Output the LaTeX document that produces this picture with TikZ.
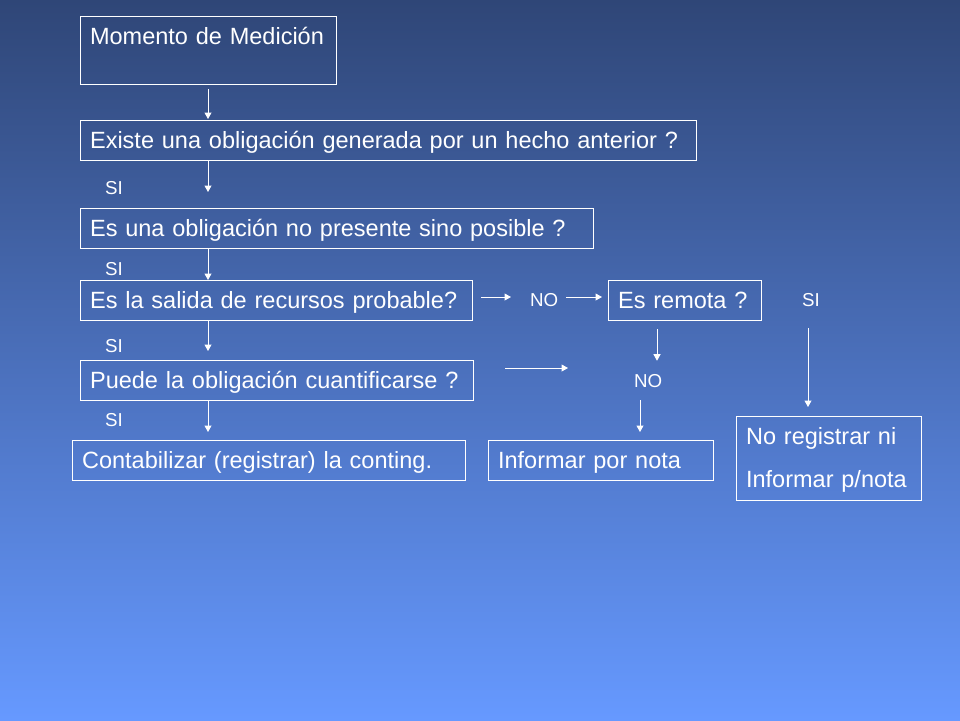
\documentclass[tikz,border=0pt]{standalone}
\usepackage{fontspec}
\setmainfont{Liberation Sans}
\usetikzlibrary{arrows.meta,calc}
\definecolor{bgtop}{RGB}{47,70,119}
\definecolor{bgbot}{RGB}{102,153,255}
\tikzset{
  box/.style={draw=white, line width=1.2pt, text=white, anchor=north west,
    inner xsep=9.5pt, inner ysep=0pt, align=left, text height=28pt,
    font=\fontsize{23.5}{43}\selectfont},
  lab/.style={text=white, anchor=base west, inner sep=0pt,
    font=\fontsize{18.7}{20}\selectfont},
  arr/.style={draw=white, line width=1pt, -{Triangle[length=6.5pt,width=7pt]}},
}
\begin{document}
\begin{tikzpicture}[x=1pt,y=-1pt]
\shade[top color=bgtop, bottom color=bgbot] (0,0) rectangle (960,720);
\useasboundingbox (0,0) rectangle (960,720);
% boxes
\node[box, minimum width=256, text width=237, text depth=40pt] (b1) at (80,16) {\mbox{Momento de Medición}};
\node[box, minimum width=616, text width=597, text depth=12pt] (b2) at (80,120) {\mbox{Existe una obligación generada por un hecho anterior ?}};
\node[box, minimum width=513, text width=494, text depth=12pt] (b3) at (80,208) {\mbox{Es una obligación no presente sino posible ?}};
\node[box, minimum width=392, text width=373, text depth=12pt] (b4) at (80,280) {\mbox{Es la salida de recursos probable?}};
\node[box, minimum width=393, text width=374, text depth=12pt] (b5) at (80,360) {\mbox{Puede la obligación cuantificarse ?}};
\node[box, minimum width=393, text width=374, text depth=12pt] (b6) at (72,440) {\mbox{Contabilizar (registrar) la conting.}};
\node[box, minimum width=153, text width=134, text depth=12pt] (b7) at (608,280) {\mbox{Es remota ?}};
\node[box, minimum width=225, text width=206, text depth=12pt] (b8) at (488,440) {\mbox{Informar por nota}};
\node[box, minimum width=185, text width=166, text depth=56pt] (b9) at (736,416) {\mbox{No registrar ni}\\\mbox{Informar p/nota}};
% labels
\node[lab] (si1) at (105,194) {SI};
\node[lab] (si2) at (105,275) {SI};
\node[lab] (si3) at (105,352) {SI};
\node[lab] (si4) at (105,426) {SI};
\node[lab] (no1) at (530,306) {NO};
\node[lab] (no2) at (634,387) {NO};
\node[lab] (si5) at (802,306) {SI};
% helper coordinates
\coordinate (colx) at (208,0);
\coordinate (r1) at (0,297);
\coordinate (e5) at (568,368);
\coordinate (cx1) at (657,0);
\coordinate (cx2) at (640,0);
\coordinate (cx3) at (808,0);
% main column arrows
\draw[arr, shorten <=4pt, shorten >=1pt] (b1.south -| colx) -- (b2.north -| colx);
\draw[arr, shorten >=16pt] (b2.south -| colx) -- (b3.north -| colx);
\draw[arr] (b3.south -| colx) -- (b4.north -| colx);
\draw[arr, shorten >=9pt] (b4.south -| colx) -- (b5.north -| colx);
\draw[arr, shorten >=8pt] (b5.south -| colx) -- (b6.north -| colx);
% horizontal arrows
\draw[arr, shorten <=8pt, shorten >=19pt] (b4.east |- r1) -- (no1.west |- r1);
\draw[arr, shorten <=8pt, shorten >=6pt] (no1.east |- r1) -- (b7.west |- r1);
\draw[arr, shorten <=31pt] (b5.east |- e5) -- (e5);
% right side arrows
\draw[arr, shorten <=8pt, shorten >=13pt] (b7.south -| cx1) -- (no2.north -| cx1);
\draw[arr, shorten <=13pt, shorten >=8pt] (no2.south -| cx2) -- (b8.north -| cx2);
\draw[arr, shorten <=22pt, shorten >=9pt] (si5.south -| cx3) -- (b9.north -| cx3);
\end{tikzpicture}
\end{document}
